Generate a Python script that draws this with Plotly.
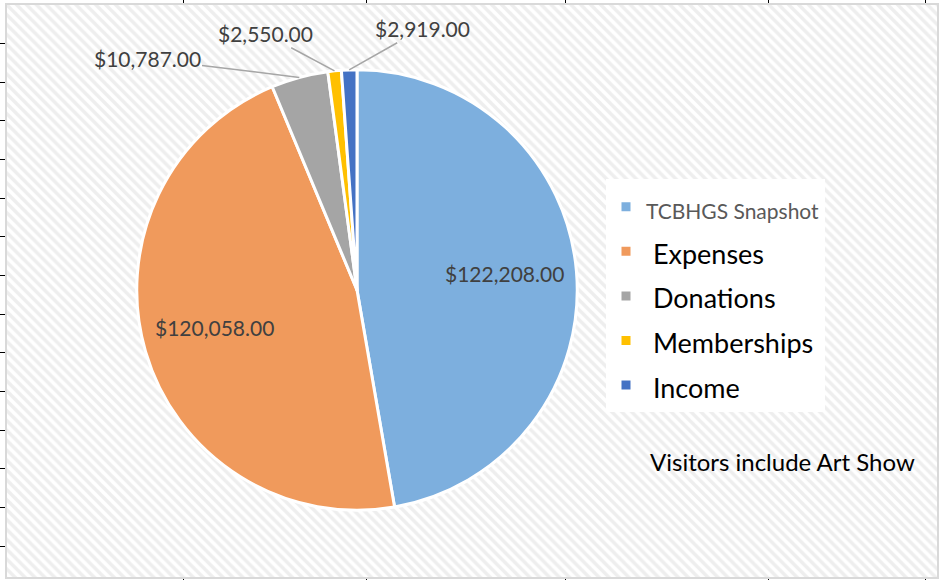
import math
import plotly.graph_objects as go

categories = ["TCBHGS Snapshot", "Expenses", "Donations", "Memberships", "Income"]
values = [122208, 120058, 10787, 2550, 2919]
colors = ["#7DAFDE", "#F09A5C", "#A5A5A5", "#FFC000", "#4472C4"]
note = "Visitors include Art Show"

W, H = 939, 580
FONT = "Lato"
LABEL_COLOR = "#404040"

# pie placement (pixels)
PIE_L, PIE_R, PIE_T, PIE_B = 136, 578, 68, 510
cx, cy = (PIE_L + PIE_R) / 2, (PIE_T + PIE_B) / 2
r = min(PIE_R - PIE_L, PIE_B - PIE_T) / 2

# label placement: inside labels along the bisector, outside labels at fixed text spots
label_mode = ["inside", "inside", "outside", "outside", "outside"]
outside_text_px = {2: (147, 57), 3: (265, 32), 4: (422, 27)}

# legend labels: first entry small grey, the others large black (as in the reference)
legend_labels = []
for i, c in enumerate(categories):
    if i == 0:
        legend_labels.append(f'<span style="font-size:21px;fill:#595959">{c}</span>')
    else:
        legend_labels.append(f'<span style="font-size:27px;fill:#000000"> {c}</span>')

fig = go.Figure()

# hatched chart-area background
fig.add_trace(go.Bar(
    x=[472], y=[574], width=[930], base=[0],
    marker=dict(color="white", line=dict(width=0),
                pattern=dict(shape="\\", fgcolor="#dedede", bgcolor="white",
                             size=7, solidity=0.5)),
    hoverinfo="skip", showlegend=False,
))

fig.add_trace(go.Pie(
    labels=legend_labels,
    values=values,
    sort=False,
    direction="clockwise",
    rotation=0,
    marker=dict(colors=colors, line=dict(color="white", width=3)),
    textinfo="none",
    domain=dict(x=[PIE_L / W, PIE_R / W], y=[1 - PIE_B / H, 1 - PIE_T / H]),
    hoverinfo="label+value",
))

# data labels derived from the slice angles
total = sum(values)
cum = 0.0
for i, v in enumerate(values):
    mid = (cum + v / 2) / total * 2 * math.pi
    cum += v
    txt = f"${v:,.2f}"
    if label_mode[i] == "inside":
        px = cx + 0.67 * r * math.sin(mid)
        py = cy - 0.67 * r * math.cos(mid) - 4
        fig.add_annotation(
            text=txt, x=px / W, y=1 - py / H, xref="paper", yref="paper",
            showarrow=False, xanchor="center", yanchor="middle",
            font=dict(family=FONT, size=21, color=LABEL_COLOR),
        )
    else:
        ex = cx + r * math.sin(mid)
        ey = cy - r * math.cos(mid)
        tx, ty = outside_text_px[i]
        fig.add_annotation(
            text=txt, x=ex / W, y=1 - ey / H, xref="paper", yref="paper",
            ax=tx - ex, ay=ty - ey, axref="pixel", ayref="pixel",
            showarrow=True, arrowhead=0, arrowwidth=1.5, arrowcolor="#a6a6a6",
            standoff=0, startstandoff=0,
            font=dict(family=FONT, size=21, color=LABEL_COLOR),
        )

fig.add_annotation(
    text=note, x=648 / W, y=1 - 461 / H, xref="paper", yref="paper",
    xanchor="left", yanchor="middle", showarrow=False,
    font=dict(family=FONT, size=24, color="#000000"),
)

fig.update_layout(
    width=W, height=H,
    margin=dict(l=0, r=0, t=0, b=0),
    paper_bgcolor="white",
    plot_bgcolor="white",
    bargap=0,
    font=dict(family=FONT, color=LABEL_COLOR),
    showlegend=True,
    legend=dict(
        x=606 / W, y=1 - 178 / H, xanchor="left", yanchor="top",
        bgcolor="white", borderwidth=0,
        font=dict(family=FONT, size=32, color="#000000"),
        traceorder="normal",
    ),
    xaxis=dict(
        range=[7, 937], domain=[7 / W, 937 / W],
        showgrid=False, zeroline=False, showticklabels=False,
        showline=True, linecolor="#d9d9d9", linewidth=2, mirror="ticks",
        ticks="outside", ticklen=3, tickcolor="#000000", tickwidth=1,
        tickvals=[183, 366, 565, 768, 925], fixedrange=True,
    ),
    yaxis=dict(
        range=[0, 574], domain=[3 / H, 577 / H],
        showgrid=False, zeroline=False, showticklabels=False,
        showline=True, linecolor="#d9d9d9", linewidth=2, mirror=True,
        ticks="outside", ticklen=7, tickcolor="#000000", tickwidth=1,
        tick0=31, dtick=38.8, fixedrange=True,
    ),
)

fig.write_html(
    "out.html",
    config={"displayModeBar": False},
    post_script="document.body.style.margin='0';document.body.style.overflow='hidden';",
)
